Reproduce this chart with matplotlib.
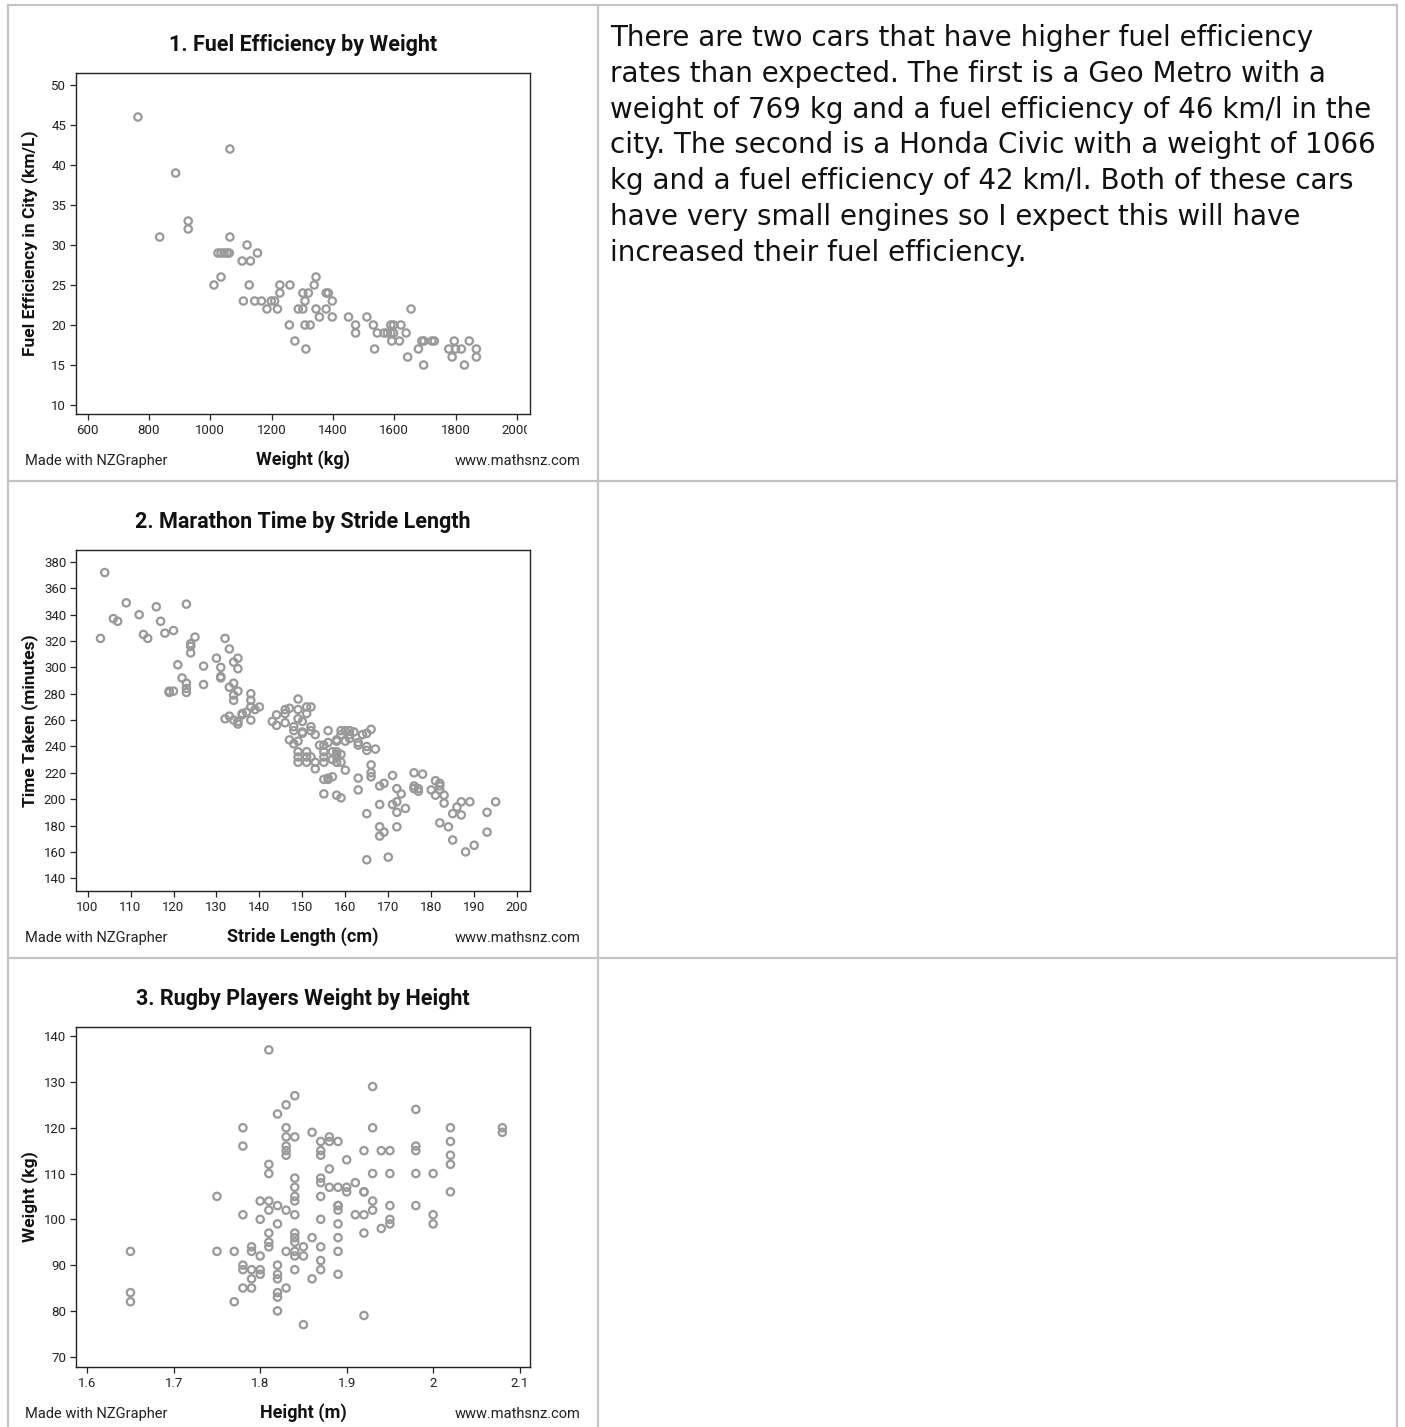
import matplotlib
matplotlib.use("Agg")
import matplotlib.pyplot as plt
from matplotlib.transforms import Bbox, TransformedBbox

# ---- data -------------------------------------------------------------
# 1. fuel efficiency vs weight
car_weight = [764, 887, 835, 928, 928, 1064, 1064, 1025, 1035, 1045, 1055, 1062,
              1012, 1035, 1120, 1104, 1131, 1154, 1127, 1108, 1145, 1167, 1185,
              1199, 1210, 1219, 1227, 1227, 1260, 1258, 1276, 1302, 1320, 1309,
              1287, 1302, 1309, 1326, 1312, 1339, 1345, 1345, 1356, 1378, 1378,
              1385, 1398, 1398, 1451, 1474, 1474, 1511, 1532, 1536, 1545, 1567,
              1578, 1589, 1598, 1589, 1598, 1592, 1617, 1622, 1639, 1655, 1644,
              1679, 1690, 1697, 1696, 1723, 1731, 1778, 1800, 1819, 1789, 1796,
              1829, 1845, 1868, 1868]
car_fuel = [46, 39, 31, 33, 32, 42, 31, 29, 29, 29, 29, 29,
            25, 26, 30, 28, 28, 29, 25, 23, 23, 23, 22,
            23, 23, 22, 24, 25, 25, 20, 18, 24, 24, 23,
            22, 22, 20, 20, 17, 25, 26, 22, 21, 22, 24,
            24, 23, 21, 21, 20, 19, 21, 20, 17, 19, 19,
            19, 19, 19, 20, 20, 18, 18, 20, 19, 22, 16,
            17, 18, 18, 15, 18, 18, 17, 17, 17, 16, 18,
            15, 18, 17, 16]

# 2. marathon time vs stride length
stride = [104, 103, 106, 107, 109, 112, 113, 114, 116, 117, 118, 120, 119, 119,
          120, 121, 123, 122, 123, 123, 123, 124, 124, 125, 124, 127, 127, 130,
          131, 131, 131, 132, 133, 134, 135, 135, 133, 134, 134, 134, 135, 132,
          133, 134, 135, 135, 136, 136, 137, 138, 138, 138, 138, 139, 140,
          149, 144, 143, 144, 146, 146, 146, 147, 148, 148, 149, 149, 150, 151,
          152, 151, 150, 150, 152, 152, 153, 147, 148, 149, 149, 149, 149, 151,
          151, 151, 152, 153, 153, 155, 155, 155, 156, 155, 154, 156, 159, 160,
          161, 159, 161, 162, 160, 161, 158, 158, 157, 158, 158, 159, 158, 159,
          157, 158, 160, 156, 156, 155, 157, 155, 158, 159, 163, 163, 163, 163,
          164, 165, 166, 165, 167, 165, 166, 166, 166, 165, 165, 168, 169, 168,
          171, 172, 172, 172, 173, 171, 174, 168, 168, 169, 172, 170, 176, 178,
          176, 177, 177, 176, 180, 181, 181, 182, 182, 182, 183, 183, 182, 184,
          185, 185, 186, 187, 187, 189, 188, 190, 193, 193, 195]
marathon_time = [372, 322, 337, 335, 349, 340, 325, 322, 346, 335, 326, 328, 282, 281,
                 282, 302, 348, 292, 288, 284, 281, 318, 311, 323, 316, 301, 287, 307,
                 300, 293, 292, 322, 314, 304, 307, 299, 285, 288, 279, 275, 282, 261,
                 263, 260, 257, 259, 264, 265, 266, 280, 275, 270, 260, 268, 270,
                 276, 264, 259, 256, 268, 265, 258, 269, 255, 252, 268, 261, 259, 270,
                 270, 265, 251, 250, 255, 252, 249, 245, 242, 244, 236, 232, 228, 236,
                 232, 228, 232, 228, 223, 228, 232, 236, 243, 241, 241, 252, 252, 252,
                 252, 249, 249, 251, 244, 246, 245, 244, 236, 234, 236, 234, 228, 228,
                 230, 232, 222, 216, 215, 215, 217, 204, 203, 201, 216, 207, 243, 241,
                 249, 250, 253, 237, 238, 240, 226, 220, 217, 189, 154, 210, 212, 196,
                 196, 198, 190, 208, 204, 218, 193, 179, 172, 175, 179, 156, 220, 219,
                 210, 208, 206, 208, 207, 203, 214, 212, 210, 207, 203, 197, 182, 179,
                 169, 189, 194, 198, 188, 198, 160, 165, 190, 175, 198]

# 3. rugby players weight vs height
height_m = [1.65, 1.65, 1.65, 1.75, 1.75, 1.77, 1.77, 1.78, 1.78, 1.78, 1.78, 1.79,
            1.79, 1.79, 1.79, 1.79, 1.80, 1.80, 1.80, 1.80, 1.80, 1.81, 1.81, 1.81,
            1.81, 1.81, 1.82, 1.82, 1.82, 1.82, 1.82, 1.82, 1.82, 1.82, 1.81, 1.84,
            1.83, 1.82, 1.78, 1.78, 1.83, 1.83, 1.84, 1.83, 1.83, 1.83, 1.81, 1.81,
            1.84, 1.84, 1.84, 1.84, 1.86, 1.87, 1.88, 1.88, 1.89, 1.87, 1.87, 1.90,
            1.88, 1.87, 1.87, 1.88, 1.89, 1.90, 1.90, 1.91, 1.87, 1.89, 1.83, 1.84,
            1.84, 1.84, 1.84, 1.86, 1.87, 1.89, 1.89, 1.89, 1.89, 1.91, 1.92, 1.92,
            1.92, 1.93, 1.93, 1.94, 1.83, 1.84, 1.84, 1.85, 1.85, 1.83, 1.84, 1.85,
            1.86, 1.87, 1.87, 1.87, 1.89, 1.89, 1.92, 1.93, 1.98, 1.93, 2.02, 2.08,
            2.08, 2.02, 2.02, 2.02, 2.02, 1.98, 1.98, 1.98, 2.00, 1.98, 2.00, 2.00,
            1.92, 1.94, 1.95, 1.93, 1.95, 1.95, 1.95, 1.95, 1.92]
weight_kg = [93, 84, 82, 105, 93, 93, 82, 101, 90, 89, 85, 85,
             94, 93, 89, 87, 89, 88, 92, 104, 100, 104, 102, 97,
             95, 94, 103, 99, 90, 88, 87, 84, 83, 80, 137, 127,
             125, 123, 120, 116, 120, 118, 118, 116, 115, 114, 112, 110,
             109, 107, 105, 104, 119, 117, 118, 117, 117, 115, 114, 113,
             111, 109, 108, 107, 107, 107, 106, 108, 105, 103, 102, 101,
             97, 96, 95, 96, 100, 103, 102, 99, 96, 101, 101, 97,
             106, 104, 102, 98, 93, 93, 92, 94, 92, 85, 89, 77,
             87, 94, 91, 89, 93, 88, 79, 129, 124, 120, 120, 120,
             119, 117, 114, 112, 106, 116, 115, 110, 110, 103, 101, 99,
             115, 115, 115, 110, 110, 103, 100, 99, 106]

answer_lines = [
    "There are two cars that have higher fuel efficiency",
    "rates than expected. The first is a Geo Metro with a",
    "weight of 769 kg and a fuel efficiency of 46 km/l in the",
    "city. The second is a Honda Civic with a weight of 1066",
    "kg and a fuel efficiency of 42 km/l. Both of these cars",
    "have very small engines so I expect this will have",
    "increased their fuel efficiency.",
]

# ---- figure -----------------------------------------------------------
W, H = 1405, 1427
fig = plt.figure(figsize=(W / 100, H / 100), dpi=100)
plt.rcParams['font.family'] = ['Roboto', 'DejaVu Sans']

# background layer in pixel coordinates (table lines + free text)
bg = fig.add_axes([0, 0, 1, 1], zorder=0)
bg.set_xlim(0, W)
bg.set_ylim(H, 0)
bg.axis('off')

grid_col = '#c4c4c4'
bg.plot([8, 1397], [5, 5], color=grid_col, lw=1.6)
bg.plot([8, 8], [5, H], color=grid_col, lw=1.6)
bg.plot([1397, 1397], [5, H], color=grid_col, lw=1.6)
bg.plot([598, 598], [5, H], color=grid_col, lw=1.6)
bg.plot([8, 1397], [481, 481], color=grid_col, lw=1.6)
bg.plot([8, 1397], [958, 958], color=grid_col, lw=1.6)


def px_axes(left, top, right, bottom):
    return fig.add_axes([left / W, 1 - bottom / H, (right - left) / W, (bottom - top) / H], zorder=1)


def style(ax):
    for s in ax.spines.values():
        s.set_color('#222222')
        s.set_linewidth(1.0)
    ax.tick_params(axis='both', direction='out', length=4, width=0.9,
                   color='#222222', labelsize=9.5, labelcolor='#222222', pad=3)


panels = [
    dict(top=73, bottom=414, x=car_weight, y=car_fuel,
         xlim=(562, 2043), ylim=(8.875, 51.5),
         xticks=range(600, 2001, 200), yticks=range(10, 51, 5),
         title="1. Fuel Efficiency by Weight", xlabel="Weight (kg)",
         ylabel="Fuel Efficiency in City (km/L)", xfmt=None),
    dict(top=550, bottom=891, x=stride, y=marathon_time,
         xlim=(97.3, 203), ylim=(130.3, 389.1),
         xticks=range(100, 201, 10), yticks=range(140, 381, 20),
         title="2. Marathon Time by Stride Length", xlabel="Stride Length (cm)",
         ylabel="Time Taken (minutes)", xfmt=None),
    dict(top=1027, bottom=1367, x=height_m, y=weight_kg,
         xlim=(1.587, 2.112), ylim=(67.75, 142),
         xticks=[1.6, 1.7, 1.8, 1.9, 2.0, 2.1], yticks=range(70, 141, 10),
         title="3. Rugby Players Weight by Height", xlabel="Height (m)",
         ylabel="Weight (kg)", xfmt=['1.6', '1.7', '1.8', '1.9', '2', '2.1']),
]

axes = []
for p in panels:
    ax = px_axes(76, p['top'], 530, p['bottom'])
    ax.scatter(p['x'], p['y'], s=28, facecolors='none', edgecolors='#999999',
               linewidths=1.6)
    ax.set_xlim(*p['xlim'])
    ax.set_ylim(*p['ylim'])
    ax.set_xticks(list(p['xticks']))
    ax.set_yticks(list(p['yticks']))
    if p['xfmt']:
        ax.set_xticklabels(p['xfmt'])
    style(ax)
    axes.append(ax)

    mid = (p['top'] + p['bottom']) / 2
    bg.text(303, p['top'] - 28, p['title'], ha='center', va='center',
            fontsize=15.5, fontweight='bold', color='#111111')
    bg.text(303, p['bottom'] + 46, p['xlabel'], ha='center', va='center',
            fontsize=13, fontweight='bold', color='#111111')
    bg.text(30, mid, p['ylabel'], ha='center', va='center', rotation=90,
            fontsize=12.5, fontweight='bold', color='#111111')
    bg.text(25, p['bottom'] + 47, "Made with NZGrapher", ha='left', va='center',
            fontsize=10.5, color='#222222')
    bg.text(581, p['bottom'] + 47, "www.mathsnz.com", ha='right', va='center',
            fontsize=10.5, color='#222222')

# right-hand written answer
for i, line in enumerate(answer_lines):
    bg.text(610, 38 + i * 35.8, line, ha='left', va='center',
            fontsize=20, color='#111111', family=['DejaVu Sans'])

# the last x tick label of the first chart is cut off at the frame edge
fig.canvas.draw()
clip = TransformedBbox(Bbox([[-0.2, -1.0], [1.0 - 3.0 / 454, 2.0]]), axes[0].transAxes)
for lab in axes[0].get_xticklabels():
    lab.set_clip_box(clip)
    lab.set_clip_on(True)

fig.savefig("out.png", dpi=100)
